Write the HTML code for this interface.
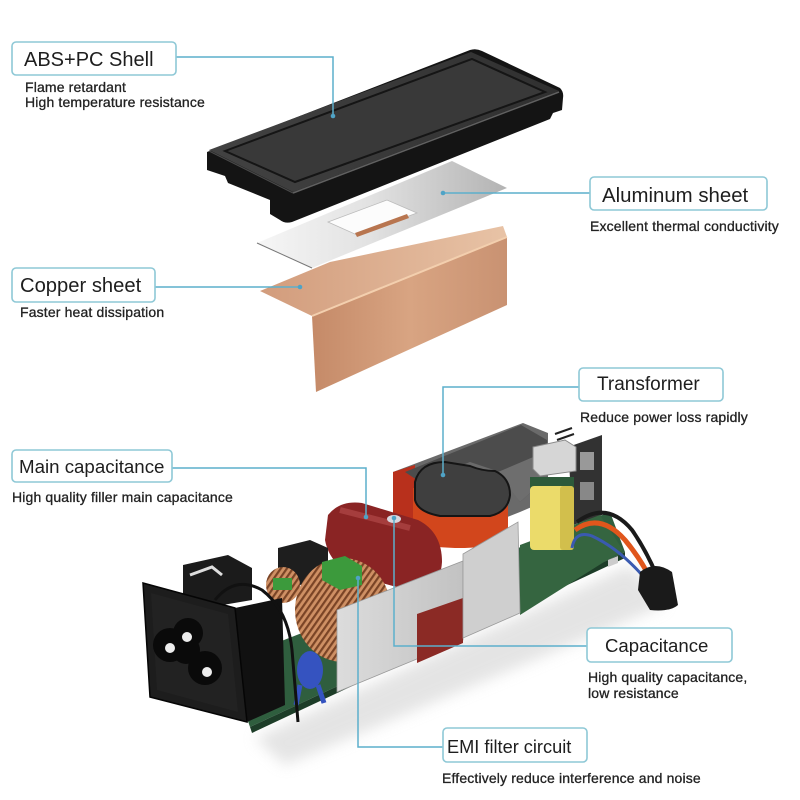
<!DOCTYPE html>
<html><head><meta charset="utf-8"><style>
html,body{margin:0;padding:0;background:#fff;width:800px;height:800px;overflow:hidden}
svg{display:block}
.lb{font-family:"Liberation Sans",Arial,sans-serif;fill:#1e1e1e}
.sb{font-family:"Liberation Sans",Arial,sans-serif;fill:#222;font-size:14px;letter-spacing:0.15px;stroke:#222;stroke-width:0.3}
.bx{fill:#fff;stroke:#8ec8d6;stroke-width:1.6}
.ln{fill:none;stroke:#5cafcc;stroke-width:1.5}
.dt{fill:#4fa3c6}
</style></head><body>
<svg width="800" height="800" viewBox="0 0 800 800" xmlns="http://www.w3.org/2000/svg">
<defs>
<linearGradient id="alu" x1="0" y1="0" x2="1" y2="0">
<stop offset="0" stop-color="#f6f6f6"/><stop offset="0.45" stop-color="#e2e2e2"/><stop offset="1" stop-color="#b3b3b3"/></linearGradient>
<linearGradient id="cuf" x1="0" y1="0" x2="1" y2="0">
<stop offset="0" stop-color="#c58a68"/><stop offset="0.5" stop-color="#d8a482"/><stop offset="1" stop-color="#c99272"/></linearGradient>
<linearGradient id="cut" x1="0" y1="0" x2="1" y2="0">
<stop offset="0" stop-color="#d29c7c"/><stop offset="1" stop-color="#e8c3a6"/></linearGradient>
<linearGradient id="shtop" x1="0" y1="0" x2="1" y2="0">
<stop offset="0" stop-color="#424242"/><stop offset="1" stop-color="#303030"/></linearGradient>
<linearGradient id="pnl" x1="0" y1="0" x2="1" y2="0">
<stop offset="0" stop-color="#dcdcdc"/><stop offset="1" stop-color="#c2c2c2"/></linearGradient>
<pattern id="coil" width="5" height="5" patternUnits="userSpaceOnUse" patternTransform="rotate(35)">
<rect width="5" height="5" fill="#cf9064"/><rect width="2.2" height="5" fill="#7a4426"/></pattern>
<filter id="blur" x="-20%" y="-20%" width="140%" height="140%"><feGaussianBlur stdDeviation="7"/></filter>
</defs>

<!-- ===== SHELL ===== -->
<path d="M207,152 L470,50 Q476,48 482,51 L560,88 Q564,92 563,98 L562,110 L553,113 L550,119 L540,123 L292,222 Q285,224 280,220 L270,214 L270,200 L228,183 L225,176 L207,170 Z" fill="#141414"/>
<path d="M209,150 L471,52 L559,91 L293,192 Z" fill="url(#shtop)"/>
<path d="M225,151 L472,59 L545,92 L295,182 Z" fill="#393939" stroke="#151515" stroke-width="2"/>
<path d="M293,193 L559,92" stroke="#606060" stroke-width="1.5" fill="none"/>
<path d="M209,151 L293,193" stroke="#4a4a4a" stroke-width="1.2" fill="none"/>

<!-- ===== COPPER ===== -->
<path d="M260,291 L330,262 L503,226 L507,237 L312,316 Z" fill="url(#cut)"/>
<path d="M312,316 L507,237 L507,305 L316,392 Z" fill="url(#cuf)"/>
<path d="M312,316 L507,237" stroke="#f3cfae" stroke-width="2" fill="none"/>

<!-- ===== ALUMINUM ===== -->
<path d="M257,243 L312,268 L507,188 L452,161 Z" fill="url(#alu)"/>
<path d="M257,243 L312,268" stroke="#777" stroke-width="1" fill="none"/>
<path d="M328,222 L387,200 L417,213 L357,235 Z" fill="#fcfcfc" stroke="#bbb" stroke-width="0.8"/>
<path d="M355,233 L407,214 L409,218 L357,237 Z" fill="#b8754f"/>

<!-- ===== PCB ASSEMBLY ===== -->
<path d="M255,738 L630,565 L665,605 L285,765 Z" fill="#cfcfcf" opacity="0.55" filter="url(#blur)"/>
<path d="M228,662 L610,512 L625,552 L250,727 Z" fill="#2f5e3e"/>
<path d="M250,727 L625,552 L625,558 L252,733 Z" fill="#1d3d28"/>

<!-- back panel & transformer -->
<path d="M393,472 L523,423 L548,433 L548,500 L520,512 L393,562 Z" fill="#6a6a6a"/>
<path d="M393,472 L415,465 L415,560 L393,562 Z" fill="#b8301c"/>
<path d="M405,472 L521,425 L547,440 L547,478 L520,502 L500,472 L470,462 L420,482 Z" fill="#4c4c4c"/>
<path d="M498,472 L545,452 L547,478 L520,502 Z" fill="#6e6e6e"/>
<path d="M413,488 L508,488 L508,535 Q500,548 460,548 Q418,548 413,535 Z" fill="#d2461c"/>
<path d="M415,482 Q420,462 445,462 L470,466 Q482,471 495,471 Q510,478 510,495 Q508,512 490,516 L440,516 Q418,512 415,500 Z" fill="#3f3f3f" stroke="#151515" stroke-width="2"/>
<!-- yellow cap, usb, plate -->
<path d="M568,447 L602,435 L602,515 L573,525 Z" fill="#323232"/>
<rect x="580" y="452" width="14" height="18" fill="#999"/>
<rect x="580" y="482" width="14" height="18" fill="#888"/>
<path d="M533,447 L565,440 L576,447 L576,471 L540,476 L533,469 Z" fill="#d6d6d6" stroke="#8a8a8a" stroke-width="1"/>
<path d="M555,434 L572,428 M557,440 L574,434" stroke="#222" stroke-width="2"/>
<path d="M520,545 L600,515 L623,550 L520,615 Z" fill="#356540"/>
<rect x="530" y="477" width="44" height="12" fill="#2d5a3a"/>
<rect x="530" y="486" width="44" height="64" rx="4" fill="#ebdb6a"/>
<rect x="560" y="486" width="14" height="64" rx="3" fill="#d2bf4c"/>
<!-- cables -->
<path d="M572,548 Q575,530 592,536 Q618,548 642,575" stroke="#3a5ab0" stroke-width="3" fill="none"/>
<path d="M575,530 Q600,512 625,540 Q640,558 650,578" stroke="#e0561c" stroke-width="5" fill="none"/>
<path d="M577,522 Q607,500 632,530 Q646,550 657,576" stroke="#1a1a1a" stroke-width="4" fill="none"/>
<path d="M640,572 Q655,560 672,572 L678,605 Q670,612 650,610 L638,590 Z" fill="#1a1a1a"/>
<path d="M608,560 L618,556 L618,563 L608,567 Z" fill="#ccc"/>

<!-- main capacitor -->
<path d="M328,515 Q340,500 362,503 L418,520 Q442,532 442,562 Q440,592 415,592 L360,577 Q330,567 325,540 Z" fill="#8a2424"/>
<path d="M340,510 L410,528" stroke="#b04848" stroke-width="6" fill="none" opacity="0.7"/>
<ellipse cx="394" cy="519" rx="7" ry="4" fill="#d8d8e0"/>
<!-- black box -->
<path d="M278,548 L310,540 L328,548 L328,578 L296,586 L278,578 Z" fill="#1e1e1e"/>
<!-- small toroid -->
<ellipse cx="283" cy="585" rx="17" ry="18" fill="url(#coil)"/>
<rect x="273" y="578" width="19" height="12" fill="#3c9a3c"/>
<!-- big toroid -->
<ellipse cx="343" cy="610" rx="48" ry="52" fill="url(#coil)"/>
<path d="M322,562 L345,556 L362,566 L362,585 L340,590 L322,580 Z" fill="#3c9a3c"/>
<!-- blue cap -->
<ellipse cx="310" cy="670" rx="13" ry="19" fill="#3553c0"/>
<path d="M300,685 L296,705 M318,685 L324,703" stroke="#3553c0" stroke-width="5"/>

<!-- silver panels -->
<path d="M462,562 L470,552 L470,565 Z" fill="#222"/>
<path d="M337,610 L463,561 L463,640 L337,692 Z" fill="url(#pnl)" stroke="#9a9a9a" stroke-width="0.8"/>
<path d="M417,614 L463,598 L463,643 L417,663 Z" fill="#8b2a25"/>
<path d="M463,554 L518,522 L520,613 L463,638 Z" fill="#cfcfcf" stroke="#9a9a9a" stroke-width="0.8"/>

<!-- socket -->
<path d="M235,608 L282,598 L285,705 L247,722 Z" fill="#111"/>
<path d="M183,565 L228,555 L252,568 L252,600 L205,608 L183,598 Z" fill="#1b1b1b"/>
<path d="M190,575 L212,567 L222,575" stroke="#ddd" stroke-width="3" fill="none"/>
<path d="M143,583 L235,608 L247,722 L150,697 Z" fill="#1d1d1d" stroke="#050505" stroke-width="1.5"/>
<path d="M151,593 L228,614 L238,712 L157,690 Z" fill="#222"/>
<circle cx="170" cy="645" r="17" fill="#0a0a0a"/>
<circle cx="188" cy="633" r="15" fill="#0a0a0a"/>
<circle cx="205" cy="668" r="17" fill="#0a0a0a"/>
<circle cx="186" cy="650" r="14" fill="#0a0a0a"/>
<circle cx="170" cy="648" r="5" fill="#eee"/>
<circle cx="187" cy="637" r="5" fill="#eee"/>
<circle cx="207" cy="672" r="5" fill="#eee"/>
<path d="M215,600 Q235,575 262,590 Q288,610 292,650 L298,722" stroke="#111" stroke-width="3" fill="none"/>

<!-- ===== CONNECTORS ===== -->
<path class="ln" d="M176,57 L333,57 L333,116"/><circle class="dt" cx="333" cy="116" r="2.3"/>
<path class="ln" d="M590,193 L443,193"/><circle class="dt" cx="443" cy="193" r="2.3"/>
<path class="ln" d="M155,287 L300,287"/><circle class="dt" cx="300" cy="287" r="2.3"/>
<path class="ln" d="M579,387 L443,387 L443,475"/><circle class="dt" cx="443" cy="475" r="2.3"/>
<path class="ln" d="M172,468 L366,468 L366,517"/><circle class="dt" cx="366" cy="517" r="2.3"/>
<path class="ln" d="M587,646 L394,646 L394,518"/><circle class="dt" cx="394" cy="518" r="2.3"/>
<path class="ln" d="M443,747 L358,747 L358,578"/><circle class="dt" cx="358" cy="578" r="2.3"/>

<!-- ===== LABEL BOXES ===== -->
<rect class="bx" x="12" y="42" width="164" height="33" rx="4"/>
<text class="lb" x="24" y="66" font-size="20">ABS+PC Shell</text>
<text class="sb" x="25" y="92">Flame retardant</text>
<text class="sb" x="25" y="107">High temperature resistance</text>

<rect class="bx" x="590" y="177" width="177" height="33" rx="4"/>
<text class="lb" x="602" y="202" font-size="20.4">Aluminum sheet</text>
<text class="sb" x="590" y="231">Excellent thermal conductivity</text>

<rect class="bx" x="12" y="268" width="143" height="34" rx="4"/>
<text class="lb" x="20" y="292" font-size="20.2">Copper sheet</text>
<text class="sb" x="20" y="317">Faster heat dissipation</text>

<rect class="bx" x="579" y="368" width="144" height="33" rx="4"/>
<text class="lb" x="597" y="390" font-size="19">Transformer</text>
<text class="sb" x="580" y="422">Reduce power loss rapidly</text>

<rect class="bx" x="12" y="450" width="160" height="32" rx="4"/>
<text class="lb" x="19" y="473" font-size="18.7">Main capacitance</text>
<text class="sb" x="12" y="502">High quality filler main capacitance</text>

<rect class="bx" x="587" y="628" width="145" height="34" rx="4"/>
<text class="lb" x="605" y="652" font-size="18.6">Capacitance</text>
<text class="sb" x="588" y="682">High quality capacitance,</text>
<text class="sb" x="588" y="698">low resistance</text>

<rect class="bx" x="443" y="728" width="144" height="34" rx="4"/>
<text class="lb" x="447" y="753" font-size="18.2">EMI filter circuit</text>
<text class="sb" x="442" y="783">Effectively reduce interference and noise</text>
</svg>
</body></html>
